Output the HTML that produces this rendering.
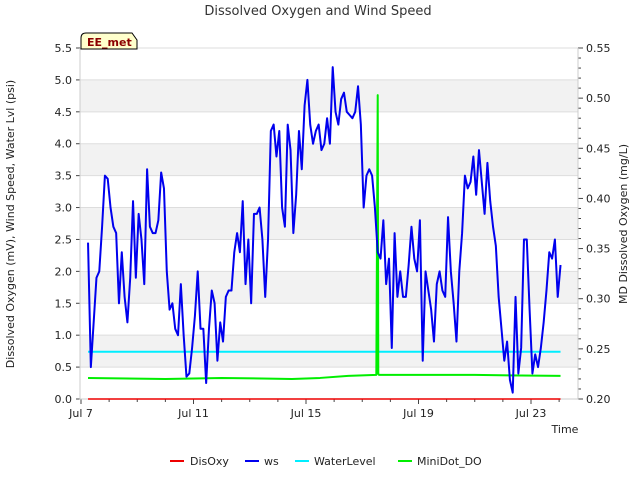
<!DOCTYPE html>
<html><head><meta charset="utf-8"><style>
body{margin:0;background:#fff;font-family:"Liberation Sans","DejaVu Sans",sans-serif;}
svg text{font-family:"DejaVu Sans","Liberation Sans",sans-serif;}
</style></head><body>
<svg id="c" width="640" height="480" viewBox="0 0 640 480">
<text x="318" y="15" font-size="13" text-anchor="middle" fill="#333">Dissolved Oxygen and Wind Speed</text>
<g id="plot"></g>
<text x="14" y="224" font-size="11" text-anchor="middle" fill="#222" transform="rotate(-90 14 224)">Dissolved Oxygen (mV), Wind Speed, Water Lvl (psi)</text>
<text x="627" y="224" font-size="11" text-anchor="middle" fill="#222" transform="rotate(-90 627 224)">MD Dissolved Oxygen (mg/L)</text>
<text x="565" y="433" font-size="11" text-anchor="middle" fill="#222">Time</text>
<g>
<g><line x1="170" y1="461" x2="184" y2="461" stroke="#e00" stroke-width="2"/><text x="190" y="465" font-size="11" fill="#222">DisOxy</text></g>
<g><line x1="245" y1="461" x2="259" y2="461" stroke="#00e" stroke-width="2"/><text x="264" y="465" font-size="11" fill="#222">ws</text></g>
<g><line x1="295" y1="461" x2="309" y2="461" stroke="#0ef" stroke-width="2"/><text x="314" y="465" font-size="11" fill="#222">WaterLevel</text></g>
<g><line x1="398" y1="461" x2="412" y2="461" stroke="#0e0" stroke-width="2"/><text x="417" y="465" font-size="11" fill="#222">MiniDot_DO</text></g>
</g>
<g><path d="M81,49 L81,38 Q81,33 86,33 L132,33 L137,40 L137,49 Z" fill="#ffffcc" stroke="#000"/><text x="87" y="46" font-size="11" font-weight="bold" fill="#8b0000">EE_met</text></g>
</svg>
<script>
const wsStart=7.25, wsStep=0.1;
const wsValues=[2.45,0.5,1.2,1.9,2.0,2.7,3.5,3.45,3.0,2.7,2.6,1.5,2.3,1.6,1.2,1.9,3.1,1.9,2.9,2.5,1.8,3.6,2.7,2.6,2.6,2.8,3.55,3.3,2.0,1.4,1.5,1.1,1.0,1.8,1.0,0.35,0.4,0.8,1.3,2.0,1.1,1.1,0.25,1.1,1.7,1.5,0.6,1.2,0.9,1.6,1.7,1.7,2.3,2.6,2.3,3.1,1.8,2.5,1.5,2.9,2.9,3.0,2.5,1.6,2.5,4.2,4.3,3.8,4.2,3.0,2.7,4.3,3.9,2.6,3.2,4.2,3.6,4.6,5.0,4.3,4.0,4.2,4.3,3.9,4.0,4.4,4.0,5.2,4.5,4.3,4.7,4.8,4.5,4.45,4.4,4.5,4.9,4.3,3.0,3.5,3.6,3.5,3.0,2.3,2.2,2.8,1.8,2.2,0.8,2.6,1.6,2.0,1.6,1.6,2.1,2.7,2.2,2.0,2.8,0.6,2.0,1.7,1.4,0.9,1.8,2.0,1.7,1.6,2.85,2.0,1.5,0.9,2.0,2.6,3.5,3.3,3.4,3.8,3.2,3.9,3.4,2.9,3.7,3.1,2.7,2.4,1.6,1.1,0.6,0.9,0.3,0.1,1.6,0.4,0.8,2.5,2.5,1.4,0.4,0.7,0.5,0.8,1.2,1.7,2.3,2.2,2.5,1.6,2.1];
const miniDays=[7.25,10.0,12.0,14.5,15.5,16.5,17.5,17.55,17.57,17.6,18.5,21.0,24.05];
const miniValues=[0.221,0.220,0.221,0.220,0.221,0.223,0.224,0.503,0.225,0.224,0.224,0.224,0.223];
const wlDays=[7.25,24.05];
const wlValues=[0.74,0.74];
const doDays=[7.25,24.05];
const doValues=[0,0];
const xTickDays=[7,11,15,19,23];
const xTickLabels=["Jul 7","Jul 11","Jul 15","Jul 19","Jul 23"];
const yTicks=[0,0.5,1,1.5,2,2.5,3,3.5,4,4.5,5,5.5];
const y2Ticks=[0.20,0.25,0.30,0.35,0.40,0.45,0.50,0.55];

const L=80,R=578,T=48,B=399;
const X=d=>L+1+(d-7)*28.125;
const Y=v=>B-v*(B-T)/5.5;
const Y2=v=>B-(v-0.2)*(B-T)/0.35;
const NS="http://www.w3.org/2000/svg";
const g=document.getElementById('plot');
function mk(tag,attrs,parent){const e=document.createElementNS(NS,tag);for(const k in attrs)e.setAttribute(k,attrs[k]);(parent||g).appendChild(e);return e;}
for(let i=0;i<yTicks.length-1;i++){
  if(i%2===1){const r=mk('rect',{x:L,y:Y(yTicks[i+1]),width:R-L,height:Y(yTicks[i])-Y(yTicks[i+1]),fill:'#f2f2f2'});
  
  }
}
yTicks.forEach(v=>{
  const l=mk('line',{x1:L,x2:R,y1:Y(v),y2:Y(v),stroke:'#ddd','stroke-width':1});
  
  
  mk('line',{x1:L-4,x2:L,y1:Y(v),y2:Y(v),stroke:'#444'});
  const t=mk('text',{x:L-8,y:Y(v)+4,'font-size':11,'text-anchor':'end',fill:'#222'});t.textContent=v.toFixed(1);
  
  
});
for(let k=0;k<=35;k++){const v=0.2+k*0.01;const maj=k%5===0;
  mk('line',{x1:R,x2:R+(maj?5:3),y1:Y2(v),y2:Y2(v),stroke:'#444'});}
y2Ticks.forEach(v=>{const t=mk('text',{x:R+8,y:Y2(v)+4,'font-size':11,fill:'#222'});t.textContent=v.toFixed(2);
  
  });
for(let d=7;d<=24;d++){mk('line',{x1:X(d),x2:X(d),y1:B,y2:B+(xTickDays.includes(d)?5:3),stroke:'#444'});}
xTickDays.forEach((d,i)=>{const t=mk('text',{x:X(d),y:B+18,'font-size':11,'text-anchor':'middle',fill:'#222'});t.textContent=xTickLabels[i];
  
  });
mk('path',{d:`M${L},${T} L${L},${B} L${R},${B} L${R},${T}`,fill:'none',stroke:'#ccc'});
function line(days,vals,yf,color,name,w){
  const p=mk('polyline',{points:days.map((d,i)=>X(d)+','+yf(vals[i])).join(' '),fill:'none',stroke:color,'stroke-width':w,'stroke-linejoin':'round'});
  
  
}
line(doDays,doValues,Y,'#e00','series-disoxy',1.5);
line(wlDays,wlValues,Y,'#00eeff','series-waterlevel',2);
line(miniDays,miniValues,Y2,'#00ee00','series-minidot-do',2);
const wsDays=wsValues.map((v,i)=>wsStart+i*wsStep);
line(wsDays,wsValues,Y,'#0000ee','series-ws',2);
</script>
</body></html>
